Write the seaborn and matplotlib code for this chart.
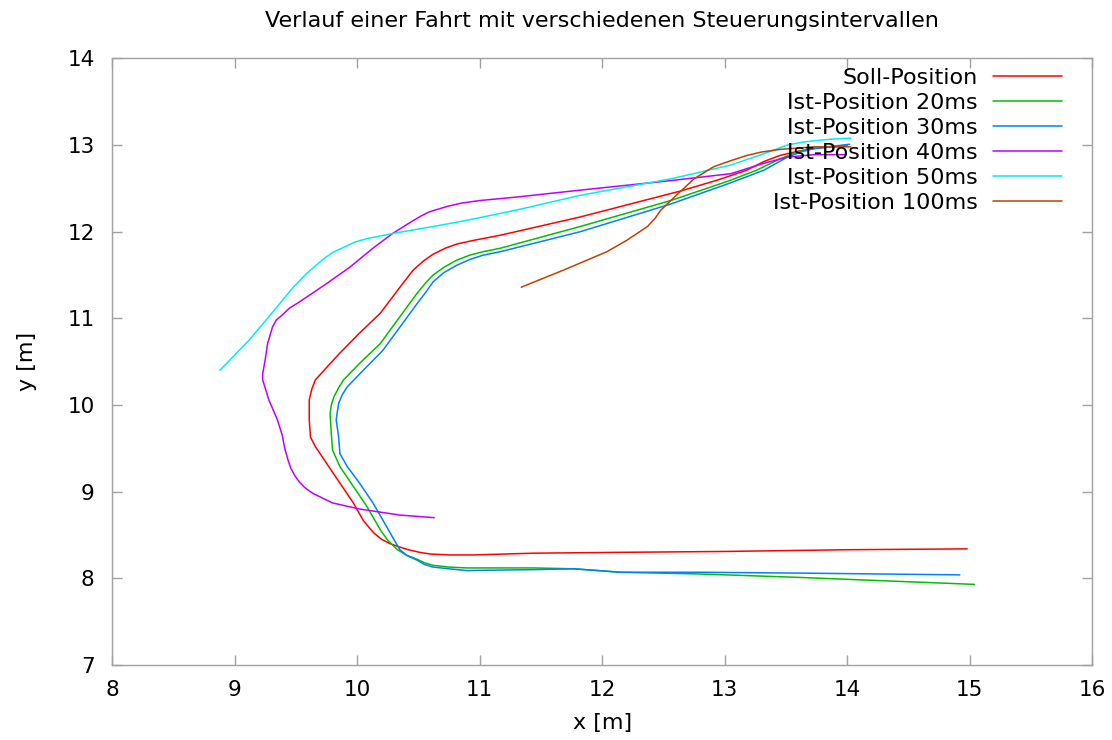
import matplotlib
matplotlib.use("Agg")
import matplotlib.pyplot as plt
import seaborn as sns
import pandas as pd

# ---- data ----
labels = ["Soll-Position", "Ist-Position 20ms", "Ist-Position 30ms",
          "Ist-Position 40ms", "Ist-Position 50ms", "Ist-Position 100ms"]

red_x = [14.98, 14.0, 13.0, 12.15, 11.44, 10.95, 10.76, 10.60, 10.51, 10.42, 10.35, 10.27,
         10.20, 10.14, 10.09, 10.05, 9.97, 9.86, 9.75, 9.66, 9.62, 9.61, 9.61, 9.63, 9.66,
         9.73, 9.86, 10.02, 10.19, 10.35, 10.46, 10.54, 10.62, 10.72, 10.82, 10.95, 11.17,
         11.82, 12.64, 12.95, 13.18, 13.32, 13.45, 13.60, 13.73, 13.86, 14.0]
red_y = [8.34, 8.33, 8.31, 8.30, 8.29, 8.27, 8.27, 8.28, 8.30, 8.33, 8.36, 8.40,
         8.45, 8.52, 8.60, 8.67, 8.87, 9.10, 9.33, 9.52, 9.63, 9.83, 10.06, 10.18, 10.29,
         10.40, 10.60, 10.83, 11.06, 11.36, 11.56, 11.66, 11.74, 11.81, 11.86, 11.90, 11.96,
         12.17, 12.47, 12.60, 12.71, 12.81, 12.88, 12.93, 12.96, 12.98, 12.99]

green_x = [15.04, 13.62, 12.80, 12.15, 11.77, 11.44, 10.89, 10.75, 10.62, 10.55, 10.49, 10.40,
           10.33, 10.25, 10.19, 10.08, 9.97, 9.86, 9.80, 9.79, 9.78, 9.79, 9.81, 9.85, 9.89,
           10.02, 10.19, 10.35, 10.49, 10.56, 10.62, 10.71, 10.81, 10.92, 11.03, 11.17, 11.82,
           12.56, 13.04, 13.26, 13.45, 13.59, 13.72, 13.86, 14.0]
green_y = [7.93, 8.01, 8.05, 8.07, 8.11, 8.12, 8.12, 8.13, 8.15, 8.18, 8.22, 8.27,
           8.33, 8.44, 8.56, 8.83, 9.06, 9.29, 9.48, 9.67, 9.90, 10.00, 10.09, 10.20, 10.29,
           10.48, 10.71, 11.02, 11.29, 11.41, 11.50, 11.59, 11.67, 11.73, 11.77, 11.81, 12.06,
           12.36, 12.59, 12.71, 12.84, 12.92, 12.96, 12.98, 13.0]

blue_x = [14.92, 13.62, 12.80, 12.15, 11.77, 11.44, 10.89, 10.75, 10.62, 10.55, 10.49, 10.41,
          10.35, 10.30, 10.24, 10.13, 10.02, 9.92, 9.86, 9.85, 9.83, 9.84, 9.85, 9.88, 9.92,
          10.05, 10.21, 10.35, 10.49, 10.56, 10.62, 10.71, 10.81, 10.92, 11.03, 11.17, 11.82,
          12.56, 13.04, 13.32, 13.51, 13.62, 13.73, 14.02]
blue_y = [8.04, 8.06, 8.07, 8.07, 8.11, 8.10, 8.09, 8.11, 8.13, 8.16, 8.21, 8.26,
          8.33, 8.45, 8.60, 8.87, 9.10, 9.29, 9.44, 9.63, 9.83, 9.93, 10.02, 10.12, 10.21,
          10.40, 10.63, 10.90, 11.17, 11.30, 11.42, 11.53, 11.61, 11.68, 11.73, 11.77, 12.00,
          12.32, 12.56, 12.71, 12.86, 12.92, 12.96, 13.01]

purple_x = [10.63, 10.35, 10.02, 9.80, 9.64, 9.58, 9.53, 9.49, 9.46, 9.44, 9.41, 9.39, 9.35,
            9.28, 9.23, 9.23, 9.25, 9.27, 9.31, 9.34, 9.39, 9.45, 9.53, 9.75, 9.94, 10.13, 10.29,
            10.46, 10.52, 10.59, 10.66, 10.73, 10.85, 11.0, 11.30, 11.82, 12.56, 13.05, 13.32,
            13.51, 13.73, 13.99]
purple_y = [8.70, 8.73, 8.80, 8.87, 8.98, 9.04, 9.11, 9.19, 9.27, 9.35, 9.50, 9.65, 9.83,
            10.06, 10.29, 10.36, 10.52, 10.71, 10.90, 10.98, 11.04, 11.12, 11.19, 11.40, 11.59,
            11.81, 11.98, 12.13, 12.18, 12.23, 12.26, 12.29, 12.33, 12.36, 12.40, 12.48, 12.59,
            12.67, 12.79, 12.86, 12.89, 12.89]

cyan_x = [8.88, 9.12, 9.31, 9.48, 9.59, 9.73, 9.80, 9.89, 9.98, 10.08, 10.29, 10.62, 10.89,
          11.30, 11.82, 12.56, 13.05, 13.32, 13.51, 13.62, 13.73, 13.88, 14.03]
cyan_y = [10.40, 10.75, 11.07, 11.36, 11.52, 11.69, 11.76, 11.82, 11.88, 11.92, 11.98, 12.06, 12.13,
          12.25, 12.42, 12.61, 12.77, 12.90, 13.00, 13.03, 13.05, 13.07, 13.08]

brown_x = [11.34, 11.69, 12.04, 12.20, 12.37, 12.43, 12.48, 12.59, 12.75, 12.91, 13.05, 13.18,
           13.30, 13.45, 13.73, 14.03]
brown_y = [11.36, 11.56, 11.77, 11.90, 12.06, 12.15, 12.25, 12.40, 12.61, 12.75, 12.82, 12.88,
           12.92, 12.95, 12.98, 12.98]

xs = [red_x, green_x, blue_x, purple_x, cyan_x, brown_x]
ys = [red_y, green_y, blue_y, purple_y, cyan_y, brown_y]
colors = ["#ff0000", "#00c000", "#0080ff", "#c000ff", "#00eeee", "#c04000"]

x_ticks = [8, 9, 10, 11, 12, 13, 14, 15, 16]
y_ticks = [7, 8, 9, 10, 11, 12, 13, 14]

# ---- style ----
sns.set_style("white")
plt.rcParams["font.family"] = ["DejaVu Sans"]
plt.rcParams["text.color"] = "black"
plt.rcParams["axes.labelcolor"] = "black"

fig = plt.figure(figsize=(11.12, 7.4), dpi=100)
ax = fig.add_axes([0.1007, 0.1014, 0.8815, 0.8196])

for lx, ly, c, lab in zip(xs, ys, colors, labels):
    df = pd.DataFrame({"x": lx, "y": ly})
    sns.lineplot(data=df, x="x", y="y", sort=False, estimator=None, color=c,
                 linewidth=1.1, label=lab, ax=ax)

ax.set_xlim(8, 16)
ax.set_ylim(7, 14)
ax.set_xticks(x_ticks)
ax.set_yticks(y_ticks)
ax.set_xticklabels([str(t) for t in x_ticks])
ax.set_yticklabels([str(t) for t in y_ticks])

for s in ax.spines.values():
    s.set_color("#a0a0a0")
    s.set_linewidth(1.0)
    s.set_visible(True)

ax.tick_params(axis="both", which="major", direction="in", length=7, width=1,
               color="#a0a0a0", labelcolor="black", labelsize=15.5,
               top=True, right=True, bottom=True, left=True)
ax.tick_params(axis="x", pad=10.5)
ax.tick_params(axis="y", pad=12.5)

ax.set_xlabel("x [m]", fontsize=16, labelpad=10, color="black")
ax.set_ylabel("y [m]", fontsize=16, labelpad=22, color="black")
ax.set_title("Verlauf einer Fahrt mit verschiedenen Steuerungsintervallen",
             fontsize=16, pad=23, color="black")

leg = ax.legend(loc="upper right", bbox_to_anchor=(0.969, 0.985), markerfirst=False,
                frameon=False, fontsize=16, handlelength=3.1, handletextpad=0.68,
                labelspacing=0.23, borderpad=0, borderaxespad=0)
for t in leg.get_texts():
    t.set_color("black")

fig.savefig("out.png", dpi=100)
